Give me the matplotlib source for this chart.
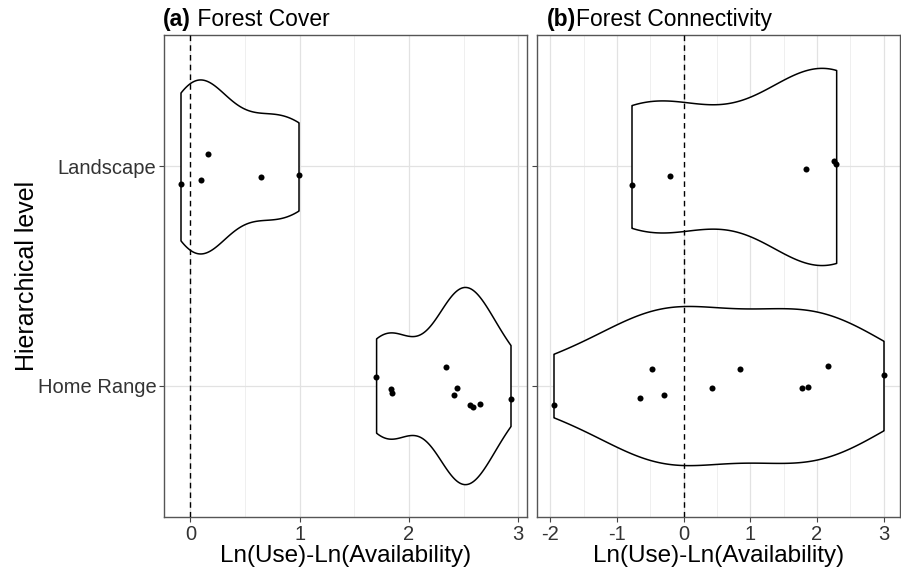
# ===========================================================
# Violin plots - Forest Cover / Forest Connectivity
# ===========================================================

import numpy as np
import matplotlib.pyplot as plt
from matplotlib import cbook
from matplotlib.ticker import MultipleLocator

plt.rcParams['font.family'] = ['Liberation Sans', 'DejaVu Sans']
plt.rcParams['axes.unicode_minus'] = False

# ===========================================================
# Data
# ===========================================================
levels = ["Home Range", "Landscape"]

cover_home = [1.70, 1.84, 1.85, 2.34, 2.44, 2.41, 2.56, 2.59, 2.65, 2.93]
cover_home_jit = [0.038, -0.015, -0.035, 0.085, -0.012, -0.042, -0.088, -0.096, -0.082, -0.061]
cover_land = [-0.09, 0.10, 0.16, 0.65, 0.99]
cover_land_jit = [-0.080, -0.064, 0.055, -0.050, -0.038]

conn_home = [-1.95, -0.66, -0.47, -0.30, 0.42, 0.85, 1.77, 1.86, 2.17, 3.00]
conn_home_jit = [-0.091, -0.055, 0.077, -0.041, -0.010, 0.075, -0.010, -0.006, 0.090, 0.047]
conn_land = [-0.78, -0.20, 1.84, 2.25, 2.29]
conn_land_jit = [-0.083, -0.042, -0.011, 0.026, 0.011]


# densidad gaussiana con ancho de banda nrd0 (como R / ggplot)
def kde_nrd0(x, coords):
    x = np.asarray(x, dtype=float)
    sd = x.std(ddof=1)
    q75, q25 = np.percentile(x, [75, 25])
    bw = 0.9 * min(sd, (q75 - q25) / 1.34) * len(x) ** -0.2
    u = (np.asarray(coords)[:, None] - x[None, :]) / bw
    return np.exp(-0.5 * u ** 2).sum(axis=1) / (len(x) * bw * np.sqrt(2 * np.pi))


def draw_panel(ax, groups, jitters, tag, title, sep, tag_x):
    positions = np.arange(1, len(groups) + 1)
    stats = cbook.violin_stats(groups, kde_nrd0, points=512)
    peak = max(s['vals'].max() for s in stats)
    widths = [0.9 * s['vals'].max() / peak for s in stats]  # scale = "area"
    parts = ax.violin(stats, positions=positions, widths=widths,
                      orientation='horizontal', showextrema=False)
    for body in parts['bodies']:
        body.set_facecolor('white')
        body.set_edgecolor('black')
        body.set_alpha(1)
        body.set_linewidth(1.1)
        body.set_zorder(2)

    for pos, vals, jit in zip(positions, groups, jitters):
        ax.scatter(vals, pos + np.asarray(jit), s=19, color='black', zorder=3, linewidths=0)

    ax.axvline(0, color='black', linestyle=(0, (4, 3)), linewidth=1.0, zorder=4)

    lo = min(min(g) for g in groups)
    hi = max(max(g) for g in groups)
    pad = (hi - lo) * 0.05
    ax.set_xlim(lo - pad, hi + pad)
    ax.set_ylim(0.4, len(groups) + 0.6)
    ax.set_yticks(positions)

    ax.xaxis.set_major_locator(MultipleLocator(1))
    ax.xaxis.set_minor_locator(MultipleLocator(0.5))
    ax.set_axisbelow(True)
    ax.grid(which='major', color='#e2e2e2', linewidth=0.9)
    ax.grid(which='minor', axis='x', color='#ececec', linewidth=0.6)
    ax.tick_params(which='minor', length=0)
    ax.tick_params(which='major', length=3.5, width=0.8, color='#444444',
                   labelcolor='#333333', labelsize=14.5, pad=2)
    for sp in ax.spines.values():
        sp.set_color('#555555')
        sp.set_linewidth(1.0)

    ax.set_xlabel("Ln(Use)-Ln(Availability)", fontsize=17.5, labelpad=1)

    t = ax.text(tag_x, 1.008, tag, transform=ax.transAxes, fontsize=16.5,
                fontweight='bold', ha='left', va='bottom')
    ax.annotate(sep + title, xy=(1, 0), xycoords=t, fontsize=16.5,
                ha='left', va='bottom')


# ===========================================================
# Figure
# ===========================================================
W, H = 901, 575
fig = plt.figure(figsize=(W / 100, H / 100), dpi=100)
ax1 = fig.add_axes([164 / W, (H - 517) / H, (527 - 164) / W, (517 - 35) / H])
ax2 = fig.add_axes([537 / W, (H - 517) / H, (900 - 537) / W, (517 - 35) / H])

draw_panel(ax1, [cover_home, cover_land], [cover_home_jit, cover_land_jit],
           "(a)", "Forest Cover", " ", -0.003)
draw_panel(ax2, [conn_home, conn_land], [conn_home_jit, conn_land_jit],
           "(b)", "Forest Connectivity", "", 0.027)

ax1.set_yticklabels(levels)
ax1.set_ylabel("Hierarchical level", fontsize=18, labelpad=-1)
ax2.set_yticklabels([])

fig.savefig("out.png", dpi=100)
